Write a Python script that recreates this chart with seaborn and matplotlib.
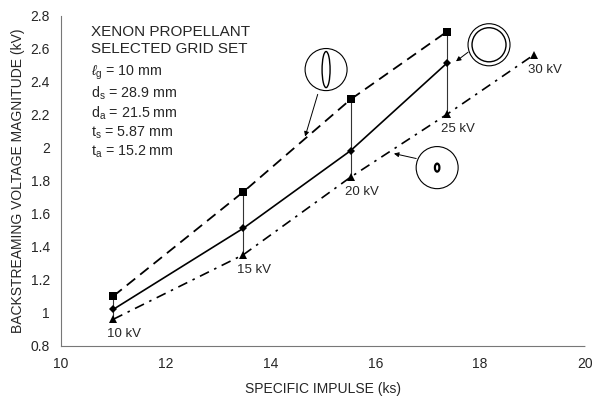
import matplotlib
matplotlib.use("Agg")
import matplotlib.pyplot as plt
from matplotlib.patches import Ellipse
from matplotlib.ticker import FuncFormatter
import seaborn as sns
import pandas as pd

# Specific impulse (ks) for each beam voltage setting
isp = [11.0, 13.48, 15.53, 17.37]
isp_30kv = 19.03
beam_labels = ["10 kV", "15 kV", "20 kV", "25 kV", "30 kV"]

# Backstreaming voltage magnitude (kV)
v_crossover = [1.10, 1.73, 2.29, 2.70]          # dashed, squares
v_nominal = [1.02, 1.51, 1.98, 2.51]            # solid, diamonds
v_perveance = [0.96, 1.35, 1.82, 2.20, 2.56]    # dash-dot, triangles

info_lines = [
    "XENON PROPELLANT",
    "SELECTED GRID SET",
    r"$\ell_\mathrm{g}$ = 10 mm",
    r"d$_\mathrm{s}$ = 28.9 mm",
    r"d$_\mathrm{a}$ = 21.5 mm",
    r"t$_\mathrm{s}$ = 5.87 mm",
    r"t$_\mathrm{a}$ = 15.2 mm",
]
info_y = [0.949, 0.897, 0.825, 0.764, 0.704, 0.643, 0.586]

sns.set_style("white")
plt.rcParams["font.family"] = ["Liberation Sans", "DejaVu Sans"]
plt.rcParams["mathtext.fontset"] = "custom"
plt.rcParams["mathtext.rm"] = "Liberation Sans"
plt.rcParams["mathtext.it"] = "Liberation Sans:italic"

fig = plt.figure(figsize=(5.92, 3.99), dpi=100)
ax = fig.add_axes([0.103, 0.1336, 0.885, 0.8288])

isp_all = isp + [isp_30kv]
df_sq = pd.DataFrame({"isp": isp, "v": v_crossover})
df_di = pd.DataFrame({"isp": isp, "v": v_nominal})
df_tr = pd.DataFrame({"isp": isp_all, "v": v_perveance})

# vertical connectors between the limits at each voltage
ax.vlines(isp, v_perveance[:4], v_crossover, color="#333333", lw=0.8, zorder=1)

sns.lineplot(data=df_sq, x="isp", y="v", ax=ax, sort=False, estimator=None,
             color="black", lw=1.3, marker="s", markersize=5.5,
             markeredgewidth=0, zorder=3)
ax.lines[-1].set_dashes([6, 3.5])
sns.lineplot(data=df_di, x="isp", y="v", ax=ax, sort=False, estimator=None,
             color="black", lw=1.2, marker="D", markersize=3.8,
             markeredgewidth=0, zorder=3)
sns.lineplot(data=df_tr, x="isp", y="v", ax=ax, sort=False, estimator=None,
             color="black", lw=1.2, marker="^", markersize=6,
             markeredgewidth=0, zorder=3)
ax.lines[-1].set_dashes([6, 3.5, 1.5, 3.5])

for xv, yv, lab in zip(isp_all, v_perveance, beam_labels):
    ax.annotate(lab, (xv, yv), xytext=(11, -15), textcoords="offset pixels",
                ha="center", va="center", fontsize=9.5)

ax.set_xlim(10, 20)
ax.set_ylim(0.8, 2.8)
ax.set_xticks([10, 12, 14, 16, 18, 20])
ax.set_yticks([0.8, 1.0, 1.2, 1.4, 1.6, 1.8, 2.0, 2.2, 2.4, 2.6, 2.8])
ax.yaxis.set_major_formatter(FuncFormatter(lambda v, p: f"{v:g}"))
ax.xaxis.set_major_formatter(FuncFormatter(lambda v, p: f"{v:g}"))
ax.tick_params(direction="in", length=2.5, width=0.6, color="#777777",
               labelsize=10, pad=8)
ax.set_xlabel("SPECIFIC IMPULSE (ks)", fontsize=10, labelpad=8)
ax.set_ylabel("BACKSTREAMING VOLTAGE MAGNITUDE (kV)", fontsize=10, labelpad=4)

sns.despine(ax=ax)
for side in ("left", "bottom"):
    ax.spines[side].set_linestyle((0, (1, 1)))
    ax.spines[side].set_color("#777777")
    ax.spines[side].set_linewidth(0.8)

# parameter block
for i, (line, yy) in enumerate(zip(info_lines, info_y)):
    ax.text(0.057, yy, line, transform=ax.transAxes,
            fontsize=11 if i < 2 else 10.3, ha="left", va="center")

# aperture sketches in circles
rx, ry = 21 / 52.4, 21 / 165.0
def bubble(cx, cy):
    ax.add_patch(Ellipse((cx, cy), 2 * rx, 2 * ry, fill=False, lw=0.8,
                         color="black", zorder=4))

# slit-like aperture
bubble(15.06, 2.47)
ax.add_patch(Ellipse((15.06, 2.47), 8 / 52.4, 36 / 165, fill=False, lw=1.0,
                     color="black", zorder=4))
ax.annotate("", xy=(14.66, 2.065), xytext=(14.90, 2.32),
            arrowprops=dict(arrowstyle="-|>", lw=0.7, color="black",
                            mutation_scale=7, shrinkA=0, shrinkB=0))

# large round aperture
bubble(18.17, 2.62)
ax.add_patch(Ellipse((18.17, 2.62), 34 / 52.4, 34 / 165, fill=False, lw=1.0,
                     color="black", zorder=4))
ax.annotate("", xy=(17.54, 2.52), xytext=(17.77, 2.575),
            arrowprops=dict(arrowstyle="-|>", lw=0.7, color="black",
                            mutation_scale=7, shrinkA=0, shrinkB=0))

# small round aperture
bubble(17.18, 1.877)
ax.add_patch(Ellipse((17.18, 1.877), 4.5 / 52.4, 8 / 165, fill=False, lw=1.6,
                     color="black", zorder=4))
ax.annotate("", xy=(16.355, 1.962), xytext=(16.78, 1.932),
            arrowprops=dict(arrowstyle="-|>", lw=0.7, color="black",
                            mutation_scale=7, shrinkA=0, shrinkB=0))

fig.savefig("out.png", dpi=100)
